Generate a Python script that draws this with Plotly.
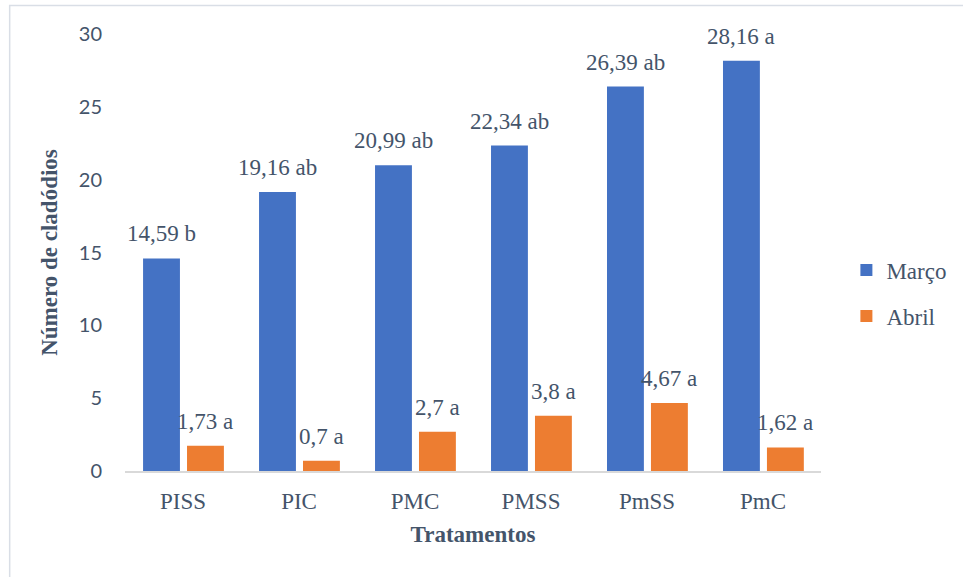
import plotly.graph_objects as go

# Number of cladodes per treatment, March and April, with Tukey letters
tratamentos = ["PISS", "PIC", "PMC", "PMSS", "PmSS", "PmC"]
marco = [14.59, 19.16, 20.99, 22.34, 26.39, 28.16]
marco_letras = ["b", "ab", "ab", "ab", "ab", "a"]
abril = [1.73, 0.7, 2.7, 3.8, 4.67, 1.62]
abril_letras = ["a", "a", "a", "a", "a", "a"]
y_ticks = [0, 5, 10, 15, 20, 25, 30]

TEXT = "#44546A"
SERIF = "Liberation Serif"
SANS = "Lato"
FS = 23


def rotulo(v, letra):
    return f"{v:g}".replace(".", ",") + " " + letra


BAR_W = 0.318
OFF_MARCO = -0.345
OFF_ABRIL = 0.034

fig = go.Figure()
fig.add_trace(go.Bar(
    x=tratamentos, y=marco, name="Março", offset=OFF_MARCO, width=BAR_W,
    marker=dict(color="#4472C4", line=dict(width=0)),
    legendgroup="a", hoverinfo="skip",
))
fig.add_trace(go.Bar(
    x=tratamentos, y=abril, name="Abril", offset=OFF_ABRIL, width=BAR_W,
    marker=dict(color="#ED7D31", line=dict(width=0)),
    legendgroup="b", hoverinfo="skip",
))

# Value labels with significance letters above each bar
annotations = []
for serie, letras, off in ((marco, marco_letras, OFF_MARCO),
                           (abril, abril_letras, OFF_ABRIL)):
    for i, (v, l) in enumerate(zip(serie, letras)):
        annotations.append(dict(
            x=i + off + BAR_W / 2, y=v, xref="x", yref="y",
            text=rotulo(v, l), showarrow=False,
            xanchor="center", yanchor="bottom", yshift=10,
            font=dict(family=SERIF, size=FS, color=TEXT),
        ))

fig.update_layout(
    width=963, height=577,
    margin=dict(l=125, r=141, t=34, b=106),
    paper_bgcolor="white", plot_bgcolor="white",
    font=dict(family=SERIF, size=FS, color=TEXT),
    barmode="overlay",
    showlegend=True,
    legend=dict(
        x=1.035, xanchor="left", y=0.407, yanchor="middle",
        font=dict(family=SERIF, size=FS, color=TEXT),
        traceorder="grouped", tracegroupgap=13,
        itemwidth=30, bgcolor="rgba(0,0,0,0)",
    ),
    xaxis=dict(
        type="category",
        showline=True, linecolor="#D9D9D9", linewidth=1.5,
        showgrid=False, ticks="", zeroline=False,
        tickfont=dict(family=SERIF, size=FS, color=TEXT),
        ticklabelstandoff=9,
        title=dict(text="<b>Tratamentos</b>", standoff=13,
                   font=dict(family=SERIF, size=FS, color=TEXT)),
    ),
    yaxis=dict(
        range=[0, 30], tickvals=y_ticks,
        showline=False, showgrid=False, zeroline=False, ticks="",
        tickfont=dict(family=SANS, size=20, color=TEXT),
        ticklabelstandoff=22,
        title=dict(text="<b>Número de cladódios</b>", standoff=14,
                   font=dict(family=SERIF, size=FS, color=TEXT)),
    ),
    annotations=annotations,
    shapes=[dict(
        type="rect", xref="paper", yref="paper",
        x0=-0.1657, x1=1.3, y0=1.0652, y1=-0.3,
        line=dict(color="#D9DEE6", width=1.5), layer="below",
    )],
)

fig.write_html("out.html")
